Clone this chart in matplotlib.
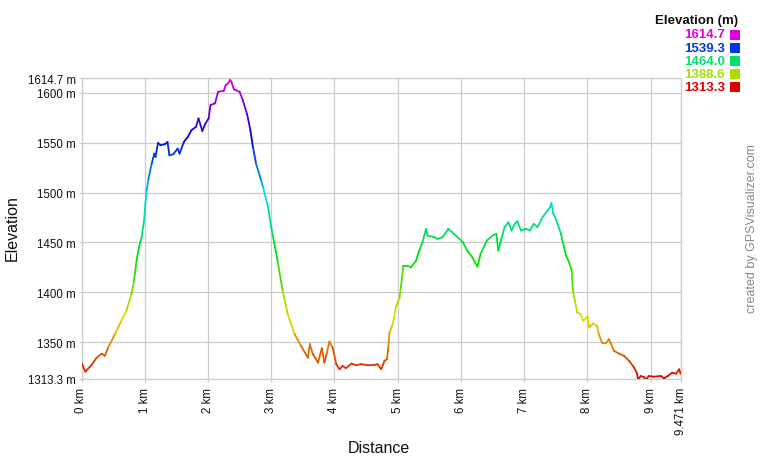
import numpy as np
import matplotlib
matplotlib.use("Agg")
import matplotlib.pyplot as plt
from matplotlib.collections import LineCollection
from matplotlib.colors import hsv_to_rgb, Normalize

plt.rcParams["font.family"] = ["Liberation Sans", "DejaVu Sans"]

# track profile: distance (km) and elevation (m)
dist_km = [0.00, 0.06, 0.16, 0.24, 0.32, 0.37, 0.42, 0.53, 0.63, 0.71, 0.79, 0.83,
           0.87, 0.91, 0.95, 0.99, 1.01, 1.03, 1.06, 1.11, 1.15, 1.17, 1.21, 1.25,
           1.32, 1.36, 1.39, 1.45, 1.52, 1.55, 1.62, 1.68, 1.74, 1.81, 1.85, 1.91,
           1.96, 2.01, 2.04, 2.11, 2.16, 2.25, 2.28, 2.32, 2.35, 2.37, 2.41, 2.50,
           2.55, 2.62, 2.67, 2.71, 2.76, 2.84, 2.87, 2.95, 3.00, 3.05, 3.10, 3.18,
           3.26, 3.37, 3.47, 3.58, 3.61, 3.66, 3.74, 3.80, 3.84, 3.88, 3.92, 3.97,
           4.03, 4.08, 4.13, 4.18, 4.27, 4.34, 4.42, 4.53, 4.63, 4.68, 4.74, 4.79,
           4.83, 4.85, 4.87, 4.92, 4.97, 5.03, 5.05, 5.09, 5.15, 5.21, 5.29, 5.34,
           5.39, 5.45, 5.47, 5.58, 5.63, 5.71, 5.80, 5.89, 6.03, 6.10, 6.18, 6.22,
           6.26, 6.31, 6.41, 6.50, 6.56, 6.59, 6.64, 6.69, 6.75, 6.80, 6.85, 6.89,
           6.95, 7.02, 7.09, 7.15, 7.21, 7.29, 7.37, 7.41, 7.43, 7.46, 7.51, 7.58,
           7.63, 7.66, 7.71, 7.75, 7.77, 7.80, 7.84, 7.89, 7.93, 8.00, 8.03, 8.09,
           8.15, 8.18, 8.23, 8.30, 8.34, 8.42, 8.50, 8.58, 8.66, 8.73, 8.78, 8.80,
           8.84, 8.89, 8.93, 8.97, 9.05, 9.16, 9.21, 9.27, 9.34, 9.40, 9.45, 9.471]
elev_m = [1329.7, 1320.6, 1327.4, 1334.7, 1338.7, 1336.4, 1344.7, 1358.2, 1371.6, 1381.6, 1398.4, 1411.7,
          1431.8, 1445.2, 1455.3, 1472.0, 1488.8, 1502.2, 1513.9, 1529.0, 1539.0, 1535.6, 1549.7, 1547.4,
          1548.4, 1550.7, 1537.3, 1538.3, 1544.0, 1539.0, 1550.7, 1555.7, 1562.5, 1565.8, 1574.2, 1561.7,
          1569.2, 1574.2, 1587.6, 1589.3, 1600.9, 1601.9, 1607.6, 1609.4, 1612.7, 1611.0, 1603.3, 1600.9,
          1592.6, 1578.0, 1562.5, 1545.7, 1529.0, 1512.2, 1505.5, 1485.4, 1465.3, 1448.6, 1431.8, 1401.7,
          1378.3, 1358.2, 1346.5, 1334.7, 1348.2, 1338.1, 1329.7, 1344.1, 1329.7, 1339.7, 1350.8, 1344.7,
          1328.1, 1323.0, 1326.4, 1324.1, 1328.7, 1327.1, 1328.1, 1327.1, 1327.4, 1328.1, 1323.0, 1331.4,
          1333.1, 1344.7, 1359.8, 1368.3, 1384.9, 1395.0, 1405.0, 1426.8, 1426.8, 1425.1, 1431.8, 1441.9,
          1450.2, 1463.7, 1456.9, 1455.3, 1453.6, 1455.3, 1463.7, 1458.7, 1450.2, 1441.9, 1435.2, 1430.1,
          1425.8, 1438.6, 1452.0, 1456.9, 1458.7, 1441.9, 1453.6, 1465.3, 1470.3, 1462.0, 1468.7, 1471.3,
          1462.0, 1463.7, 1462.0, 1468.7, 1465.3, 1475.4, 1482.1, 1485.4, 1489.4, 1478.8, 1472.0, 1458.7,
          1445.2, 1436.9, 1430.1, 1421.8, 1401.7, 1391.7, 1379.9, 1378.3, 1371.6, 1375.6, 1364.8, 1368.9,
          1366.5, 1358.2, 1349.8, 1349.8, 1353.2, 1341.4, 1338.7, 1336.4, 1331.4, 1325.4, 1319.6, 1312.5,
          1316.3, 1315.3, 1313.0, 1316.3, 1315.6, 1316.3, 1314.0, 1316.3, 1319.6, 1318.6, 1323.0, 1318.6]

ELEV_MIN, ELEV_MAX = 1313.3, 1614.7
TOTAL_KM = 9.471
y_ticks = [1313.3, 1350, 1400, 1450, 1500, 1550, 1600, 1614.7]
y_ticklabels = ["1313.3 m", "1350 m", "1400 m", "1450 m", "1500 m", "1550 m", "1600 m", "1614.7 m"]
x_ticks = [0, 1, 2, 3, 4, 5, 6, 7, 8, 9, 9.471]
x_ticklabels = ["0 km", "1 km", "2 km", "3 km", "4 km", "5 km", "6 km", "7 km", "8 km", "9 km", "9.471 km"]
legend_vals = [1614.7, 1539.3, 1464.0, 1388.6, 1313.3]

C_GRID = "#CCCCCC"
norm = Normalize(ELEV_MIN, ELEV_MAX)


def elev_color(v):
    # red (low) -> yellow -> green -> blue -> magenta (high)
    t = float(np.clip(norm(v), 0, 1))
    return hsv_to_rgb([t * 300.0 / 360.0, 1.0, 0.88])


fig = plt.figure(figsize=(7.6, 4.6), dpi=100)
fig.patch.set_facecolor("white")
ax = fig.add_axes([81.5 / 760, 80 / 460, 599 / 760, 301 / 460])

x = np.array(dist_km)
y = np.array(elev_m)
segs = np.stack([np.column_stack([x[:-1], y[:-1]]), np.column_stack([x[1:], y[1:]])], axis=1)
cols = [elev_color((a + b) / 2) for a, b in zip(y[:-1], y[1:])]
ax.add_collection(LineCollection(segs, colors=cols, linewidths=1.3, capstyle="round",
                                 joinstyle="round", zorder=3))

ax.set_xlim(0, TOTAL_KM)
ax.set_ylim(ELEV_MIN, ELEV_MAX)
ax.set_yticks(y_ticks)
ax.set_yticklabels(y_ticklabels)
ax.set_xticks(x_ticks)
ax.set_xticklabels(x_ticklabels, rotation=90)
ax.grid(True, color=C_GRID, lw=0.9, zorder=0)
ax.tick_params(axis="both", colors=C_GRID, length=2.5, width=0.9, labelsize=8.3,
               labelcolor="#111111")
ax.tick_params(axis="y", pad=1.5)
ax.tick_params(axis="x", pad=3)
for s in ax.spines.values():
    s.set_color(C_GRID)
    s.set_linewidth(0.9)

fig.text(12 / 760, 1 - 228 / 460, "Elevation", rotation=90, ha="center", va="center",
         fontsize=11.5, color="#111111")
fig.text(379 / 760, 1 - 449 / 460, "Distance", ha="center", va="center",
         fontsize=11.5, color="#111111")

# elevation legend (top right)
fig.text(738 / 760, 1 - 21 / 460, "Elevation (m)", ha="right", va="center",
         fontsize=9.5, fontweight="bold", color="#111111")
for i, v in enumerate(legend_vals):
    yc = 1 - (35.5 + i * 13.2) / 460
    c = elev_color(v)
    fig.text(725 / 760, yc, f"{v:.1f}", ha="right", va="center", fontsize=9.5,
             fontweight="bold", color=c)
    fig.patches.append(plt.Rectangle((730 / 760, yc - 5 / 460), 10 / 760, 10 / 460,
                                     transform=fig.transFigure, facecolor=c,
                                     edgecolor="none", figure=fig))

fig.text(752 / 760, 1 - 229 / 460, "created by GPSVisualizer.com", rotation=90,
         ha="center", va="center", fontsize=9, color="#888888")

fig.savefig("out.png", dpi=100, facecolor="white")
